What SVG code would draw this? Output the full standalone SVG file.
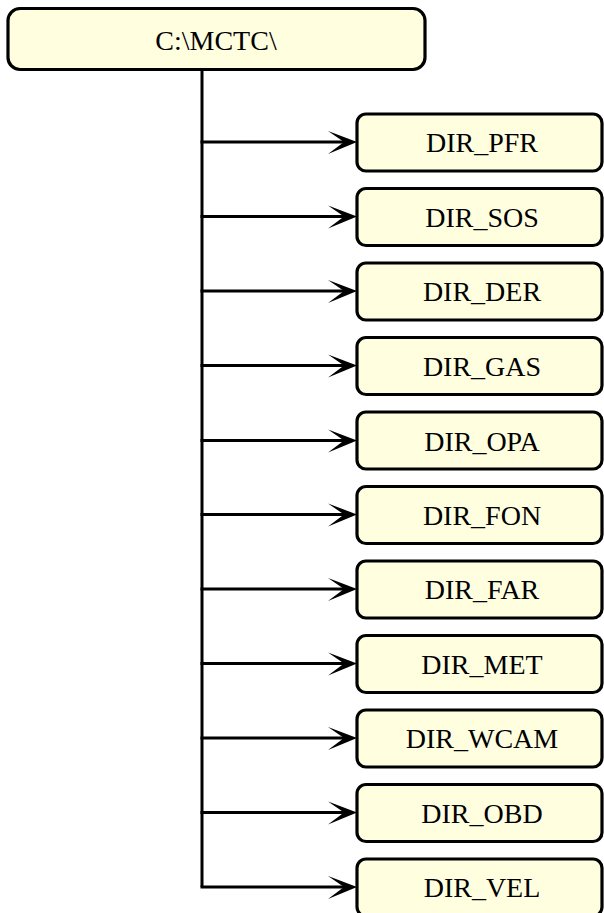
<svg xmlns="http://www.w3.org/2000/svg" width="604" height="913" viewBox="0 0 604 913">
<style>
.box{fill:#FFFFE0;stroke:#000;stroke-width:3.2}
.lbl{font-family:"Liberation Serif","Times New Roman",serif;font-size:28px;fill:#000;text-anchor:middle}
.ln{stroke:#000;stroke-width:3;fill:none}
.ah{fill:#000}
</style>
<rect width="604" height="913" fill="#fff"/>
<g id="connectors">
<path class="ln" d="M202,70 V887"/>
<path class="ln" d="M200.5,142 H345"/><path class="ah" d="M357,142 L328,131 L344,142 L328,154 Z"/>
<path class="ln" d="M200.5,216.5 H345"/><path class="ah" d="M357,216.5 L328,205.5 L344,216.5 L328,228.5 Z"/>
<path class="ln" d="M200.5,291 H345"/><path class="ah" d="M357,291 L328,280 L344,291 L328,303 Z"/>
<path class="ln" d="M200.5,365.5 H345"/><path class="ah" d="M357,365.5 L328,354.5 L344,365.5 L328,377.5 Z"/>
<path class="ln" d="M200.5,440.5 H345"/><path class="ah" d="M357,440.5 L328,429.5 L344,440.5 L328,452.5 Z"/>
<path class="ln" d="M200.5,514.5 H345"/><path class="ah" d="M357,514.5 L328,503.5 L344,514.5 L328,526.5 Z"/>
<path class="ln" d="M200.5,589 H345"/><path class="ah" d="M357,589 L328,578 L344,589 L328,601 Z"/>
<path class="ln" d="M200.5,663.5 H345"/><path class="ah" d="M357,663.5 L328,652.5 L344,663.5 L328,675.5 Z"/>
<path class="ln" d="M200.5,738 H345"/><path class="ah" d="M357,738 L328,727 L344,738 L328,750 Z"/>
<path class="ln" d="M200.5,812.5 H345"/><path class="ah" d="M357,812.5 L328,801.5 L344,812.5 L328,824.5 Z"/>
<path class="ln" d="M200.5,887 H345"/><path class="ah" d="M357,887 L328,876 L344,887 L328,899 Z"/>
</g>
<g id="root"><rect class="box" x="8" y="8.5" width="417" height="61" rx="12"/><text class="lbl" x="216" y="49.5">C:\MCTC\</text></g>
<g id="n1"><rect class="box" x="357" y="114" width="245" height="57" rx="9"/><text class="lbl" x="482" y="152">DIR_PFR</text></g>
<g id="n2"><rect class="box" x="357" y="188.5" width="245" height="57" rx="9"/><text class="lbl" x="482" y="226.5">DIR_SOS</text></g>
<g id="n3"><rect class="box" x="357" y="263" width="245" height="57" rx="9"/><text class="lbl" x="482" y="301">DIR_DER</text></g>
<g id="n4"><rect class="box" x="357" y="337.5" width="245" height="57" rx="9"/><text class="lbl" x="482" y="375.5">DIR_GAS</text></g>
<g id="n5"><rect class="box" x="357" y="412" width="245" height="57" rx="9"/><text class="lbl" x="482" y="450.5">DIR_OPA</text></g>
<g id="n6"><rect class="box" x="357" y="486.5" width="245" height="57" rx="9"/><text class="lbl" x="482" y="524.5">DIR_FON</text></g>
<g id="n7"><rect class="box" x="357" y="561" width="245" height="57" rx="9"/><text class="lbl" x="482" y="599">DIR_FAR</text></g>
<g id="n8"><rect class="box" x="357" y="635.5" width="245" height="57" rx="9"/><text class="lbl" x="482" y="673.5">DIR_MET</text></g>
<g id="n9"><rect class="box" x="357" y="710" width="245" height="57" rx="9"/><text class="lbl" x="482" y="748">DIR_WCAM</text></g>
<g id="n10"><rect class="box" x="357" y="784.5" width="245" height="57" rx="9"/><text class="lbl" x="482" y="822.5">DIR_OBD</text></g>
<g id="n11"><rect class="box" x="357" y="859" width="245" height="57" rx="9"/><text class="lbl" x="482" y="897">DIR_VEL</text></g>
</svg>
